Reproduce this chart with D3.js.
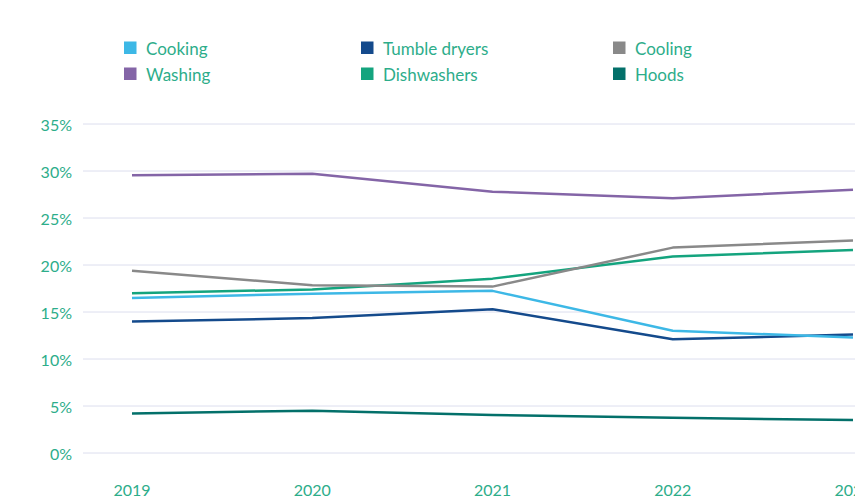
<!DOCTYPE html>
<html>
<head>
<meta charset="utf-8">
<script src="https://cdn.jsdelivr.net/npm/d3@7"></script>
<style>
  html, body { margin: 0; padding: 0; background: #fff; overflow: hidden; }
  svg { display: block; font-family: Lato, "Open Sans", sans-serif; }
</style>
</head>
<body>
<svg id="chart" width="855" height="499"></svg>
<script>
const years = ["2019", "2020", "2021", "2022", "2023"];
const yTicks = [0, 5, 10, 15, 20, 25, 30, 35];
const seriesNames = ["Cooking", "Tumble dryers", "Cooling", "Washing", "Dishwashers", "Hoods"];
const seriesColors = ["#3db8e6", "#144a8c", "#898989", "#8465a7", "#14a47e", "#03706a"];
const cooking      = [16.5, 16.95, 17.25, 13.0, 12.3];
const tumbleDryers = [14.0, 14.35, 15.3, 12.1, 12.6];
const cooling      = [19.4, 17.85, 17.7, 21.85, 22.6];
const washing      = [29.55, 29.7, 27.8, 27.1, 28.0];
const dishwashers  = [17.0, 17.4, 18.55, 20.9, 21.6];
const hoods        = [4.2, 4.5, 4.05, 3.75, 3.5];
const seriesValues = [cooking, tumbleDryers, cooling, washing, dishwashers, hoods];

const textColor = "#2dad8a";
const svg = d3.select("#chart");

const x = d3.scalePoint().domain(years).range([132, 853]);
const y = d3.scaleLinear().domain([0, 35]).range([453, 124]);

// gridlines + y labels
const yAxis = svg.append("g");
yAxis.selectAll("line").data(yTicks).join("line")
  .attr("x1", 83).attr("x2", 860)
  .attr("y1", d => y(d)).attr("y2", d => y(d))
  .attr("stroke", "#dcdeee").attr("stroke-width", 1);
yAxis.selectAll("text").data(yTicks).join("text")
  .attr("x", 72).attr("y", d => y(d)).attr("dy", 6.5)
  .attr("text-anchor", "end")
  .attr("font-size", 16).attr("fill", textColor)
  .text(d => d + "%");

// x labels
svg.append("g").selectAll("text").data(years).join("text")
  .attr("x", d => x(d)).attr("y", 496)
  .attr("text-anchor", "middle")
  .attr("font-size", 16).attr("fill", textColor)
  .text(d => d);

// lines
const line = d3.line().x((d, i) => x(years[i])).y(d => y(d));
const drawOrder = [5, 3, 1, 0, 4, 2];
svg.append("g").selectAll("path").data(drawOrder).join("path")
  .attr("d", k => line(seriesValues[k]))
  .attr("fill", "none")
  .attr("stroke", k => seriesColors[k])
  .attr("stroke-width", 2.5)
  .attr("stroke-linejoin", "round");

// legend
const legendX = [124, 361, 613];
const legendY = [48, 74];
const lg = svg.append("g").selectAll("g").data(seriesNames).join("g")
  .attr("transform", (d, i) => `translate(${legendX[i % 3]},${legendY[Math.floor(i / 3)]})`);
lg.append("rect").attr("x", 0).attr("y", -6.5).attr("width", 12.5).attr("height", 12.5)
  .attr("fill", (d, i) => seriesColors[i]);
lg.append("text").attr("x", 22).attr("y", 6.5)
  .attr("font-size", 17).attr("fill", textColor)
  .text(d => d);
</script>
</body>
</html>
